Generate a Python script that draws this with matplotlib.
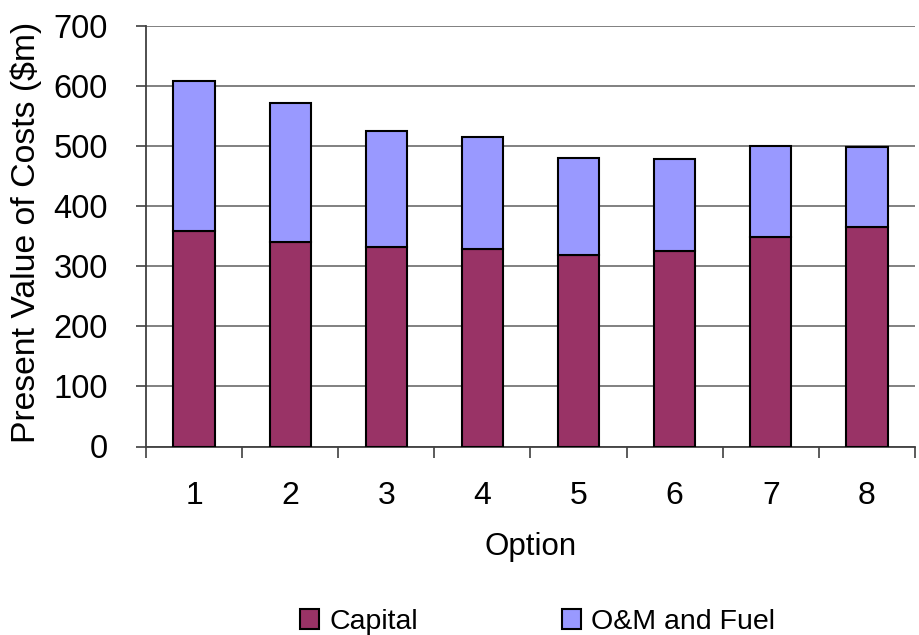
import numpy as np
import matplotlib.pyplot as plt
from matplotlib.patches import Patch

plt.rcParams['font.family'] = ['Liberation Sans', 'DejaVu Sans']

# Present value of costs per option ($m)
options = ['1', '2', '3', '4', '5', '6', '7', '8']
capital = [358, 341, 332, 328, 318, 325, 348, 365]
om_fuel = [250, 230, 193, 187, 163, 153, 153, 133]

cap_color = '#993366'
om_color = '#9999FF'

W, H = 920, 635
fig = plt.figure(figsize=(W / 100, H / 100), dpi=100)
ax = fig.add_axes([146 / W, 1 - 446.5 / H, (915 - 146) / W, (446.5 - 26) / H])

x = np.arange(len(options))
w = 0.43
ax.bar(x, capital, w, color=cap_color, edgecolor='black', linewidth=1.5, zorder=3)
ax.bar(x, om_fuel, w, bottom=capital, color=om_color, edgecolor='black', linewidth=1.5, zorder=3)

ax.set_xlim(-0.5, len(options) - 0.5)
ax.set_ylim(0, 700)
ax.set_yticks(np.arange(0, 701, 100))
ax.yaxis.grid(True, color='#808080', linewidth=1.4, zorder=0)

# category labels in the middle, tick marks on the boundaries
ax.set_xticks(x)
ax.set_xticklabels(options)
ax.set_xticks(np.arange(-0.5, len(options), 1), minor=True)
ax.tick_params(axis='x', which='major', length=0, pad=25, labelsize=23)
ax.tick_params(axis='x', which='minor', length=8, width=1.2, color='#404040')
ax.tick_params(axis='y', length=7.5, width=1.2, color='#404040', labelsize=23.5, pad=20)

for s in ['top', 'right']:
    ax.spines[s].set_visible(False)
for s in ['left', 'bottom']:
    ax.spines[s].set_color('#404040')
    ax.spines[s].set_linewidth(1.3)

ax.set_ylabel('Present Value of Costs ($m)', fontsize=24.3, labelpad=7)
ax.yaxis.set_label_coords(-0.135, 0.51)
ax.set_xlabel('Option', fontsize=22.5, labelpad=15)

handles = [Patch(facecolor=cap_color, edgecolor='black', linewidth=1.5, label='Capital'),
           Patch(facecolor=om_color, edgecolor='black', linewidth=1.5, label='O&M and Fuel')]
fig.legend(handles=handles, loc='center', bbox_to_anchor=(537.5 / W, 1 - 622 / H),
           ncol=2, frameon=False, fontsize=20.5, handlelength=0.67, handleheight=0.67,
           handletextpad=0.35, columnspacing=5.05, borderpad=0)

fig.savefig('out.png', dpi=100)
